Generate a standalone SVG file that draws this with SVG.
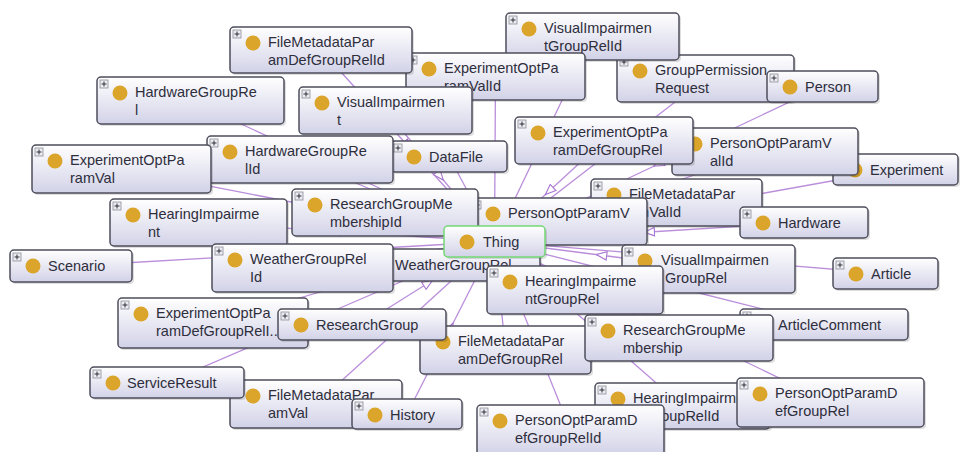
<svg xmlns="http://www.w3.org/2000/svg" width="960" height="452" viewBox="0 0 960 452">
  <defs>
    <linearGradient id="boxFill" x1="0" y1="0" x2="0" y2="1">
      <stop offset="0" stop-color="#ffffff"/>
      <stop offset="1" stop-color="#d2d2e8"/>
    </linearGradient>
    <marker id="tri" viewBox="0 0 12 10" refX="6" refY="5" markerWidth="12" markerHeight="10" markerUnits="userSpaceOnUse" orient="auto">
      <path d="M0.8,0.8 L11.2,5 L0.8,9.2 Z" fill="#ffffff" stroke="#a774d0" stroke-width="1.1"/>
    </marker>
    <style>
      .edge { fill: none; stroke: #bb8edb; stroke-width: 1.3; marker-mid: url(#tri); }
      .sh { fill: #000000; opacity: 0.13; }
      .box { fill: url(#boxFill); stroke: #4e4e5c; stroke-width: 1.5; }
      .thing { stroke: #74d874; }
      .exp { fill: #ececf2; stroke: #8c8c98; stroke-width: 0.8; }
      .expc { stroke: #30303a; stroke-width: 1; fill: none; }
      .dot { fill: #dba52b; }
      .lbl { font-family: "Liberation Sans", Arial, sans-serif; font-size: 14.5px; fill: #2e2e3c; }
    </style>
  </defs>

  <rect width="960" height="452" fill="#ffffff"/>

  <!-- subclass links: every class points to Thing, arrowhead at the middle -->
  <g id="connectors">
    <polyline class="edge" points="321,50 407.75,145.75 494.5,241.5"/>
    <polyline class="edge" points="190.5,100.5 342.5,171 494.5,241.5"/>
    <polyline class="edge" points="592.5,36.5 543.5,139 494.5,241.5"/>
    <polyline class="edge" points="495.5,76.5 495,159 494.5,241.5"/>
    <polyline class="edge" points="705.5,78.5 600,160 494.5,241.5"/>
    <polyline class="edge" points="822.5,86.5 658.5,164 494.5,241.5"/>
    <polyline class="edge" points="385.5,110.5 440,176 494.5,241.5"/>
    <polyline class="edge" points="300,159.5 397.25,200.5 494.5,241.5"/>
    <polyline class="edge" points="449,156.5 471.75,199 494.5,241.5"/>
    <polyline class="edge" points="604,140.5 549.25,191 494.5,241.5"/>
    <polyline class="edge" points="765,151.5 629.75,196.5 494.5,241.5"/>
    <polyline class="edge" points="895.5,169.5 695,205.5 494.5,241.5"/>
    <polyline class="edge" points="121.5,169 308,205.25 494.5,241.5"/>
    <polyline class="edge" points="676.5,202.5 585.5,222 494.5,241.5"/>
    <polyline class="edge" points="385,212.5 439.75,227 494.5,241.5"/>
    <polyline class="edge" points="558.5,221.5 526.5,231.5 494.5,241.5"/>
    <polyline class="edge" points="804,222.5 649.25,232 494.5,241.5"/>
    <polyline class="edge" points="198.5,222.5 346.5,232 494.5,241.5"/>
    <polyline class="edge" points="71,266 282.75,253.75 494.5,241.5"/>
    <polyline class="edge" points="302.5,268 398.5,254.75 494.5,241.5"/>
    <polyline class="edge" points="448.5,265 471.5,253.25 494.5,241.5"/>
    <polyline class="edge" points="708.5,269 601.5,255.25 494.5,241.5"/>
    <polyline class="edge" points="885.5,273.5 690,257.5 494.5,241.5"/>
    <polyline class="edge" points="575,290 534.75,265.75 494.5,241.5"/>
    <polyline class="edge" points="213,323 353.75,282.25 494.5,241.5"/>
    <polyline class="edge" points="362,324.5 428.25,283 494.5,241.5"/>
    <polyline class="edge" points="824,324.5 659.25,283 494.5,241.5"/>
    <polyline class="edge" points="505.5,350 500,295.75 494.5,241.5"/>
    <polyline class="edge" points="679,338 586.75,289.75 494.5,241.5"/>
    <polyline class="edge" points="167,382.5 330.75,312 494.5,241.5"/>
    <polyline class="edge" points="316,404 405.25,322.75 494.5,241.5"/>
    <polyline class="edge" points="407,414 450.75,327.75 494.5,241.5"/>
    <polyline class="edge" points="682.5,406 588.5,323.75 494.5,241.5"/>
    <polyline class="edge" points="830.5,402.5 662.5,322 494.5,241.5"/>
    <polyline class="edge" points="570.5,430 532.5,335.75 494.5,241.5"/>
  </g>

  <!-- class nodes, back to front -->
  <g id="n-GroupPermissionRequest" transform="translate(617,55)">
    <rect class="sh" x="2" y="2" width="177" height="47" rx="4"/>
    <rect class="box" width="177" height="47" rx="4"/>
    <rect class="exp" x="3" y="3" width="8" height="8"/><path class="expc" d="M4.5,7h5M7,4.5v5"/>
    <circle class="dot" cx="23" cy="16" r="7.5"/>
    <text class="lbl" x="38" y="20">GroupPermission</text>
    <text class="lbl" x="38" y="38">Request</text>
  </g>
  <g id="n-VisualImpairmentGroupRelId" transform="translate(506,13)">
    <rect class="sh" x="2" y="2" width="173" height="47" rx="4"/>
    <rect class="box" width="173" height="47" rx="4"/>
    <rect class="exp" x="3" y="3" width="8" height="8"/><path class="expc" d="M4.5,7h5M7,4.5v5"/>
    <circle class="dot" cx="23" cy="16" r="7.5"/>
    <text class="lbl" x="38" y="20">VisualImpairmen</text>
    <text class="lbl" x="38" y="38">tGroupRelId</text>
  </g>
  <g id="n-Person" transform="translate(767,71)">
    <rect class="sh" x="2" y="2" width="111" height="31" rx="4"/>
    <rect class="box" width="111" height="31" rx="4"/>
    <rect class="exp" x="3" y="3" width="8" height="8"/><path class="expc" d="M4.5,7h5M7,4.5v5"/>
    <circle class="dot" cx="23" cy="16" r="7.5"/>
    <text class="lbl" x="38" y="21">Person</text>
  </g>
  <g id="n-ExperimentOptParamValId" transform="translate(406,53)">
    <rect class="sh" x="2" y="2" width="179" height="47" rx="4"/>
    <rect class="box" width="179" height="47" rx="4"/>
    <rect class="exp" x="3" y="3" width="8" height="8"/><path class="expc" d="M4.5,7h5M7,4.5v5"/>
    <circle class="dot" cx="23" cy="16" r="7.5"/>
    <text class="lbl" x="38" y="20">ExperimentOptPa</text>
    <text class="lbl" x="38" y="38">ramValId</text>
  </g>
  <g id="n-FileMetadataParamDefGroupRelId" transform="translate(230,27)">
    <rect class="sh" x="2" y="2" width="182" height="46" rx="4"/>
    <rect class="box" width="182" height="46" rx="4"/>
    <rect class="exp" x="3" y="3" width="8" height="8"/><path class="expc" d="M4.5,7h5M7,4.5v5"/>
    <circle class="dot" cx="23" cy="16" r="7.5"/>
    <text class="lbl" x="38" y="20">FileMetadataPar</text>
    <text class="lbl" x="38" y="38">amDefGroupRelId</text>
  </g>
  <g id="n-VisualImpairment" transform="translate(299,87)">
    <rect class="sh" x="2" y="2" width="173" height="47" rx="4"/>
    <rect class="box" width="173" height="47" rx="4"/>
    <rect class="exp" x="3" y="3" width="8" height="8"/><path class="expc" d="M4.5,7h5M7,4.5v5"/>
    <circle class="dot" cx="23" cy="16" r="7.5"/>
    <text class="lbl" x="38" y="20">VisualImpairmen</text>
    <text class="lbl" x="38" y="38">t</text>
  </g>
  <g id="n-HardwareGroupRel" transform="translate(97,77)">
    <rect class="sh" x="2" y="2" width="187" height="47" rx="4"/>
    <rect class="box" width="187" height="47" rx="4"/>
    <rect class="exp" x="3" y="3" width="8" height="8"/><path class="expc" d="M4.5,7h5M7,4.5v5"/>
    <circle class="dot" cx="23" cy="16" r="7.5"/>
    <text class="lbl" x="38" y="20">HardwareGroupRe</text>
    <text class="lbl" x="38" y="38">l</text>
  </g>
  <g id="n-Experiment" transform="translate(833,154)">
    <rect class="sh" x="2" y="2" width="125" height="31" rx="4"/>
    <rect class="box" width="125" height="31" rx="4"/>
    <rect class="exp" x="3" y="3" width="8" height="8"/><path class="expc" d="M4.5,7h5M7,4.5v5"/>
    <circle class="dot" cx="22" cy="16" r="7.5"/>
    <text class="lbl" x="37" y="21">Experiment</text>
  </g>
  <g id="n-PersonOptParamValId" transform="translate(672,128)">
    <rect class="sh" x="2" y="2" width="186" height="47" rx="4"/>
    <rect class="box" width="186" height="47" rx="4"/>
    <rect class="exp" x="3" y="3" width="8" height="8"/><path class="expc" d="M4.5,7h5M7,4.5v5"/>
    <circle class="dot" cx="23" cy="16" r="7.5"/>
    <text class="lbl" x="38" y="20">PersonOptParamV</text>
    <text class="lbl" x="38" y="38">alId</text>
  </g>
  <g id="n-ExperimentOptParamDefGroupRel" transform="translate(515,117)">
    <rect class="sh" x="2" y="2" width="178" height="47" rx="4"/>
    <rect class="box" width="178" height="47" rx="4"/>
    <rect class="exp" x="3" y="3" width="8" height="8"/><path class="expc" d="M4.5,7h5M7,4.5v5"/>
    <circle class="dot" cx="23" cy="16" r="7.5"/>
    <text class="lbl" x="38" y="20">ExperimentOptPa</text>
    <text class="lbl" x="38" y="38">ramDefGroupRel</text>
  </g>
  <g id="n-DataFile" transform="translate(391,141)">
    <rect class="sh" x="2" y="2" width="116" height="31" rx="4"/>
    <rect class="box" width="116" height="31" rx="4"/>
    <rect class="exp" x="3" y="3" width="8" height="8"/><path class="expc" d="M4.5,7h5M7,4.5v5"/>
    <circle class="dot" cx="23" cy="16" r="7.5"/>
    <text class="lbl" x="38" y="21">DataFile</text>
  </g>
  <g id="n-HardwareGroupRelId" transform="translate(207,136)">
    <rect class="sh" x="2" y="2" width="186" height="47" rx="4"/>
    <rect class="box" width="186" height="47" rx="4"/>
    <rect class="exp" x="3" y="3" width="8" height="8"/><path class="expc" d="M4.5,7h5M7,4.5v5"/>
    <circle class="dot" cx="23" cy="16" r="7.5"/>
    <text class="lbl" x="38" y="20">HardwareGroupRe</text>
    <text class="lbl" x="38" y="38">lId</text>
  </g>
  <g id="n-ExperimentOptParamVal" transform="translate(32,145)">
    <rect class="sh" x="2" y="2" width="179" height="48" rx="4"/>
    <rect class="box" width="179" height="48" rx="4"/>
    <rect class="exp" x="3" y="3" width="8" height="8"/><path class="expc" d="M4.5,7h5M7,4.5v5"/>
    <circle class="dot" cx="23" cy="16" r="7.5"/>
    <text class="lbl" x="38" y="20">ExperimentOptPa</text>
    <text class="lbl" x="38" y="38">ramVal</text>
  </g>
  <g id="n-FileMetadataParamValId" transform="translate(591,179)">
    <rect class="sh" x="2" y="2" width="171" height="47" rx="4"/>
    <rect class="box" width="171" height="47" rx="4"/>
    <rect class="exp" x="3" y="3" width="8" height="8"/><path class="expc" d="M4.5,7h5M7,4.5v5"/>
    <circle class="dot" cx="23" cy="16" r="7.5"/>
    <text class="lbl" x="38" y="20">FileMetadataPar</text>
    <text class="lbl" x="38" y="38">amValId</text>
  </g>
  <g id="n-Hardware" transform="translate(740,207)">
    <rect class="sh" x="2" y="2" width="128" height="31" rx="4"/>
    <rect class="box" width="128" height="31" rx="4"/>
    <rect class="exp" x="3" y="3" width="8" height="8"/><path class="expc" d="M4.5,7h5M7,4.5v5"/>
    <circle class="dot" cx="23" cy="16" r="7.5"/>
    <text class="lbl" x="38" y="21">Hardware</text>
  </g>
  <g id="n-PersonOptParamVal" transform="translate(470,198)">
    <rect class="sh" x="2" y="2" width="177" height="47" rx="4"/>
    <rect class="box" width="177" height="47" rx="4"/>
    <rect class="exp" x="3" y="3" width="8" height="8"/><path class="expc" d="M4.5,7h5M7,4.5v5"/>
    <circle class="dot" cx="23" cy="16" r="7.5"/>
    <text class="lbl" x="38" y="20">PersonOptParamV</text>
  </g>
  <g id="n-ResearchGroupMembershipId" transform="translate(292,189)">
    <rect class="sh" x="2" y="2" width="186" height="47" rx="4"/>
    <rect class="box" width="186" height="47" rx="4"/>
    <rect class="exp" x="3" y="3" width="8" height="8"/><path class="expc" d="M4.5,7h5M7,4.5v5"/>
    <circle class="dot" cx="23" cy="16" r="7.5"/>
    <text class="lbl" x="38" y="20">ResearchGroupMe</text>
    <text class="lbl" x="38" y="38">mbershipId</text>
  </g>
  <g id="n-WeatherGroupRel" transform="translate(357,249)">
    <rect class="sh" x="2" y="2" width="183" height="32" rx="4"/>
    <rect class="box" width="183" height="32" rx="4"/>
    <rect class="exp" x="3" y="3" width="8" height="8"/><path class="expc" d="M4.5,7h5M7,4.5v5"/>
    <circle class="dot" cx="23" cy="16" r="7.5"/>
    <text class="lbl" x="38" y="21">WeatherGroupRel</text>
  </g>
  <g id="n-Thing" transform="translate(444,226)">
    <rect class="sh" x="2" y="2" width="101" height="31" rx="4"/>
    <rect class="box thing" width="101" height="31" rx="4"/>
    <circle class="dot" cx="23" cy="16" r="7.5"/>
    <text class="lbl" x="39" y="21">Thing</text>
  </g>
  <g id="n-HearingImpairment" transform="translate(110,199)">
    <rect class="sh" x="2" y="2" width="177" height="47" rx="4"/>
    <rect class="box" width="177" height="47" rx="4"/>
    <rect class="exp" x="3" y="3" width="8" height="8"/><path class="expc" d="M4.5,7h5M7,4.5v5"/>
    <circle class="dot" cx="23" cy="16" r="7.5"/>
    <text class="lbl" x="38" y="20">HearingImpairme</text>
    <text class="lbl" x="38" y="38">nt</text>
  </g>
  <g id="n-WeatherGroupRelId" transform="translate(212,244)">
    <rect class="sh" x="2" y="2" width="181" height="48" rx="4"/>
    <rect class="box" width="181" height="48" rx="4"/>
    <rect class="exp" x="3" y="3" width="8" height="8"/><path class="expc" d="M4.5,7h5M7,4.5v5"/>
    <circle class="dot" cx="23" cy="16" r="7.5"/>
    <text class="lbl" x="38" y="20">WeatherGroupRel</text>
    <text class="lbl" x="38" y="38">Id</text>
  </g>
  <g id="n-VisualImpairmentGroupRel" transform="translate(622,245)">
    <rect class="sh" x="2" y="2" width="173" height="48" rx="4"/>
    <rect class="box" width="173" height="48" rx="4"/>
    <rect class="exp" x="3" y="3" width="8" height="8"/><path class="expc" d="M4.5,7h5M7,4.5v5"/>
    <circle class="dot" cx="23" cy="16" r="7.5"/>
    <text class="lbl" x="39" y="20">VisualImpairmen</text>
    <text class="lbl" x="43" y="38">GroupRel</text>
  </g>
  <g id="n-HearingImpairmentGroupRel" transform="translate(487,266)">
    <rect class="sh" x="2" y="2" width="176" height="48" rx="4"/>
    <rect class="box" width="176" height="48" rx="4"/>
    <rect class="exp" x="3" y="3" width="8" height="8"/><path class="expc" d="M4.5,7h5M7,4.5v5"/>
    <circle class="dot" cx="23" cy="16" r="7.5"/>
    <text class="lbl" x="38" y="20">HearingImpairme</text>
    <text class="lbl" x="38" y="38">ntGroupRel</text>
  </g>
  <g id="n-Scenario" transform="translate(10,250)">
    <rect class="sh" x="2" y="2" width="122" height="32" rx="4"/>
    <rect class="box" width="122" height="32" rx="4"/>
    <rect class="exp" x="3" y="3" width="8" height="8"/><path class="expc" d="M4.5,7h5M7,4.5v5"/>
    <circle class="dot" cx="23" cy="16" r="7.5"/>
    <text class="lbl" x="38" y="21">Scenario</text>
  </g>
  <g id="n-Article" transform="translate(833,258)">
    <rect class="sh" x="2" y="2" width="105" height="31" rx="4"/>
    <rect class="box" width="105" height="31" rx="4"/>
    <rect class="exp" x="3" y="3" width="8" height="8"/><path class="expc" d="M4.5,7h5M7,4.5v5"/>
    <circle class="dot" cx="23" cy="16" r="7.5"/>
    <text class="lbl" x="38" y="21">Article</text>
  </g>
  <g id="n-ArticleComment" transform="translate(740,309)">
    <rect class="sh" x="2" y="2" width="168" height="31" rx="4"/>
    <rect class="box" width="168" height="31" rx="4"/>
    <rect class="exp" x="3" y="3" width="8" height="8"/><path class="expc" d="M4.5,7h5M7,4.5v5"/>
    <circle class="dot" cx="23" cy="16" r="7.5"/>
    <text class="lbl" x="38" y="21">ArticleComment</text>
  </g>
  <g id="n-FileMetadataParamDefGroupRel" transform="translate(420,326)">
    <rect class="sh" x="2" y="2" width="171" height="48" rx="4"/>
    <rect class="box" width="171" height="48" rx="4"/>
    <rect class="exp" x="3" y="3" width="8" height="8"/><path class="expc" d="M4.5,7h5M7,4.5v5"/>
    <circle class="dot" cx="23" cy="16" r="7.5"/>
    <text class="lbl" x="38" y="20">FileMetadataPar</text>
    <text class="lbl" x="38" y="38">amDefGroupRel</text>
  </g>
  <g id="n-ResearchGroupMembership" transform="translate(585,315)">
    <rect class="sh" x="2" y="2" width="188" height="46" rx="4"/>
    <rect class="box" width="188" height="46" rx="4"/>
    <rect class="exp" x="3" y="3" width="8" height="8"/><path class="expc" d="M4.5,7h5M7,4.5v5"/>
    <circle class="dot" cx="23" cy="16" r="7.5"/>
    <text class="lbl" x="38" y="20">ResearchGroupMe</text>
    <text class="lbl" x="38" y="38">mbership</text>
  </g>
  <g id="n-ExperimentOptParamDefGroupRelId" transform="translate(118,298)">
    <rect class="sh" x="2" y="2" width="190" height="50" rx="4"/>
    <rect class="box" width="190" height="50" rx="4"/>
    <rect class="exp" x="3" y="3" width="8" height="8"/><path class="expc" d="M4.5,7h5M7,4.5v5"/>
    <circle class="dot" cx="23" cy="16" r="7.5"/>
    <text class="lbl" x="38" y="20">ExperimentOptPa</text>
    <text class="lbl" x="38" y="38">ramDefGroupRelI...</text>
  </g>
  <g id="n-ResearchGroup" transform="translate(278,309)">
    <rect class="sh" x="2" y="2" width="168" height="31" rx="4"/>
    <rect class="box" width="168" height="31" rx="4"/>
    <rect class="exp" x="3" y="3" width="8" height="8"/><path class="expc" d="M4.5,7h5M7,4.5v5"/>
    <circle class="dot" cx="23" cy="16" r="7.5"/>
    <text class="lbl" x="38" y="21">ResearchGroup</text>
  </g>
  <g id="n-FileMetadataParamVal" transform="translate(230,380)">
    <rect class="sh" x="2" y="2" width="172" height="48" rx="4"/>
    <rect class="box" width="172" height="48" rx="4"/>
    <rect class="exp" x="3" y="3" width="8" height="8"/><path class="expc" d="M4.5,7h5M7,4.5v5"/>
    <circle class="dot" cx="23" cy="16" r="7.5"/>
    <text class="lbl" x="38" y="20">FileMetadataPar</text>
    <text class="lbl" x="38" y="38">amVal</text>
  </g>
  <g id="n-ServiceResult" transform="translate(90,367)">
    <rect class="sh" x="2" y="2" width="154" height="31" rx="4"/>
    <rect class="box" width="154" height="31" rx="4"/>
    <rect class="exp" x="3" y="3" width="8" height="8"/><path class="expc" d="M4.5,7h5M7,4.5v5"/>
    <circle class="dot" cx="23" cy="16" r="7.5"/>
    <text class="lbl" x="37" y="21">ServiceResult</text>
  </g>
  <g id="n-History" transform="translate(352,399)">
    <rect class="sh" x="2" y="2" width="110" height="30" rx="4"/>
    <rect class="box" width="110" height="30" rx="4"/>
    <rect class="exp" x="3" y="3" width="8" height="8"/><path class="expc" d="M4.5,7h5M7,4.5v5"/>
    <circle class="dot" cx="23" cy="16" r="7.5"/>
    <text class="lbl" x="38" y="21">History</text>
  </g>
  <g id="n-HearingImpairmentGroupRelId" transform="translate(595,383)">
    <rect class="sh" x="2" y="2" width="175" height="46" rx="4"/>
    <rect class="box" width="175" height="46" rx="4"/>
    <rect class="exp" x="3" y="3" width="8" height="8"/><path class="expc" d="M4.5,7h5M7,4.5v5"/>
    <circle class="dot" cx="23" cy="16" r="7.5"/>
    <text class="lbl" x="38" y="20">HearingImpairme</text>
    <text class="lbl" x="38" y="38">ntGroupRelId</text>
  </g>
  <g id="n-PersonOptParamDefGroupRel" transform="translate(737,378)">
    <rect class="sh" x="2" y="2" width="187" height="49" rx="4"/>
    <rect class="box" width="187" height="49" rx="4"/>
    <rect class="exp" x="3" y="3" width="8" height="8"/><path class="expc" d="M4.5,7h5M7,4.5v5"/>
    <circle class="dot" cx="23" cy="16" r="7.5"/>
    <text class="lbl" x="38" y="20">PersonOptParamD</text>
    <text class="lbl" x="38" y="38">efGroupRel</text>
  </g>
  <g id="n-PersonOptParamDefGroupRelId" transform="translate(477,405)">
    <rect class="sh" x="2" y="2" width="187" height="50" rx="4"/>
    <rect class="box" width="187" height="50" rx="4"/>
    <rect class="exp" x="3" y="3" width="8" height="8"/><path class="expc" d="M4.5,7h5M7,4.5v5"/>
    <circle class="dot" cx="23" cy="16" r="7.5"/>
    <text class="lbl" x="38" y="20">PersonOptParamD</text>
    <text class="lbl" x="38" y="38">efGroupRelId</text>
  </g>
</svg>
